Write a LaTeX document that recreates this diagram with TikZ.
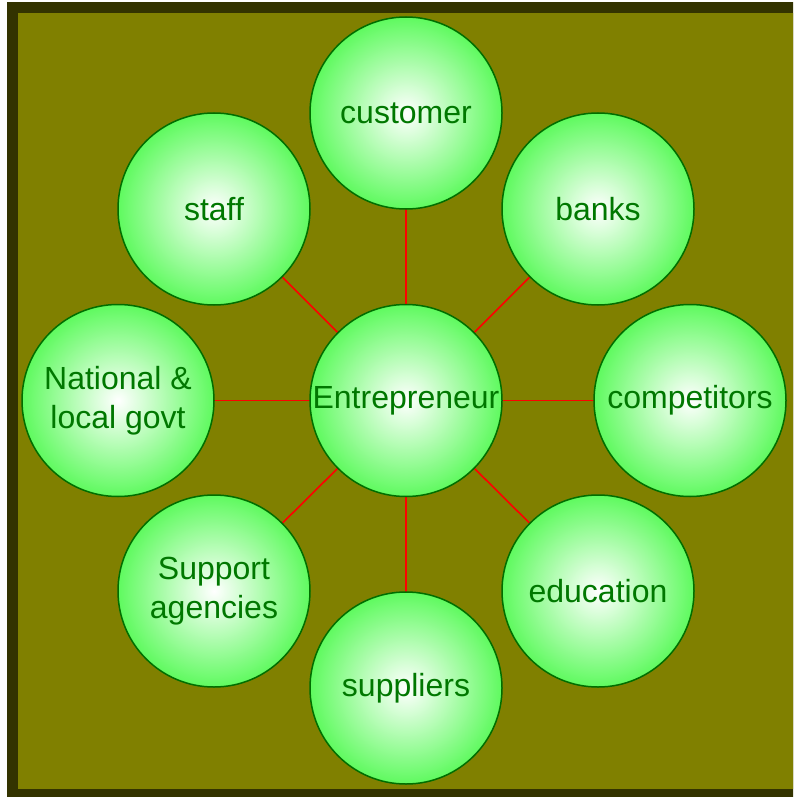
\documentclass[tikz,border=0pt]{standalone}
\usepackage{fontspec}
\setmainfont{Liberation Sans}
\definecolor{olivebg}{RGB}{128,128,0}
\definecolor{darkframe}{RGB}{51,51,0}
\definecolor{ballgreen}{RGB}{95,250,95}
\definecolor{edgegreen}{RGB}{0,110,0}
\definecolor{txtgreen}{RGB}{0,120,0}
\tikzset{
  ball/.style={circle, minimum size=192pt, inner sep=0pt, draw=edgegreen, line width=1.5pt,
    shade, inner color=white, outer color=ballgreen, text=txtgreen, align=center,
    font=\fontsize{32}{39}\selectfont},
  link/.style={draw=red, line width=1.6pt}
}
\begin{document}
\begin{tikzpicture}[x=1pt,y=-1pt]
\useasboundingbox (0,0) rectangle (793,797);
\begin{scope}
\clip (0,0) rectangle (793,797);
\fill[white] (0,0) rectangle (793,797);
\fill[darkframe] (7,2) rectangle (810,810);
\fill[olivebg] (18,13) rectangle (810,789);
\end{scope}
\coordinate (pc) at (406,400.5);
\coordinate (pcust) at (406,113);
\coordinate (pstaff) at (214,209);
\coordinate (pbanks) at (598,209);
\coordinate (pgovt) at (118,400.5);
\coordinate (pcomp) at (690,400.5);
\coordinate (psupp) at (214,591);
\coordinate (pedu) at (598,591);
\coordinate (psupl) at (406,688);
\foreach \p in {pcust,pstaff,pbanks,pgovt,pcomp,psupp,pedu,psupl}
  \draw[link] (pc) -- (\p);
\node[ball] (c) at (pc) {Entrepreneur};
\node[ball] (cust) at (pcust) {customer};
\node[ball] (staff) at (pstaff) {staff};
\node[ball] (banks) at (pbanks) {banks};
\node[ball] (govt) at (pgovt) {National \&\\local govt};
\node[ball] (comp) at (pcomp) {competitors};
\node[ball] (supp) at (psupp) {Support\\agencies};
\node[ball] (edu) at (pedu) {education};
\node[ball] (supl) at (psupl) {suppliers};
\end{tikzpicture}
\end{document}
